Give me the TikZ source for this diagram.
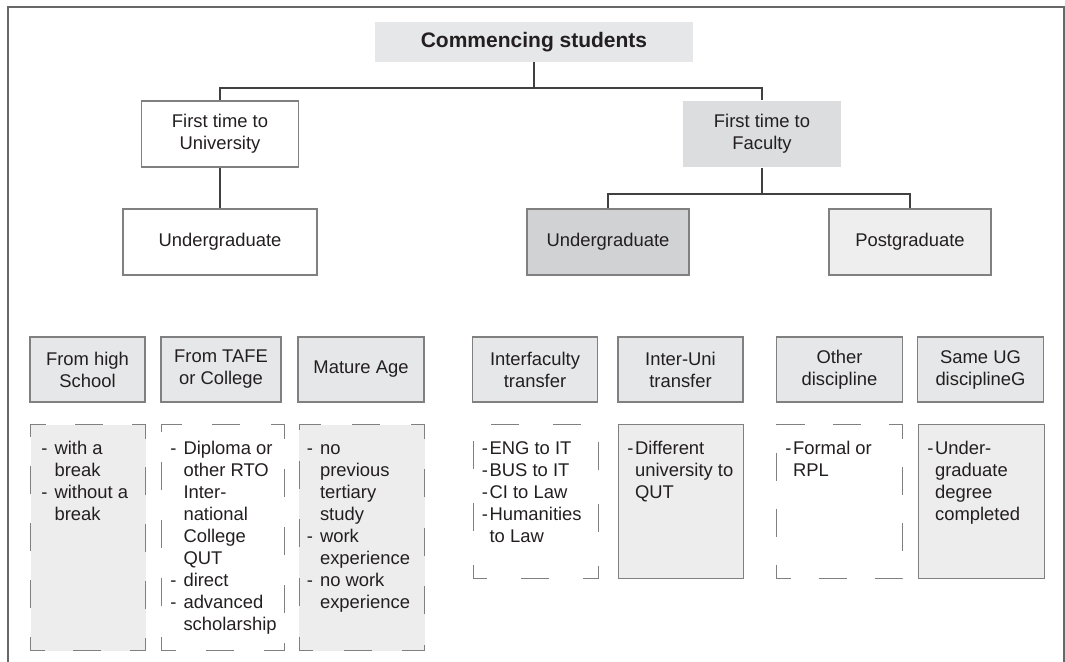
\documentclass[tikz,border=0pt]{standalone}
\usepackage{fontspec}
\setmainfont{Liberation Sans}
\usepackage{xcolor}
\usepackage{tikz}
\usetikzlibrary{positioning,calc,decorations}

\definecolor{inkc}{HTML}{231F20}
\definecolor{edgec}{HTML}{808080}
\definecolor{linec}{HTML}{404040}
\definecolor{titlefill}{HTML}{E6E7E8}
\definecolor{facfill}{HTML}{DCDDDE}
\definecolor{ugfill}{HTML}{D1D2D4}
\definecolor{pgfill}{HTML}{EEEEEE}
\definecolor{headfill}{HTML}{E6E7E8}
\definecolor{detfill}{HTML}{EDEDED}

\tikzset{
  every node/.style={text=inkc, font=\fontsize{9.2}{11}\selectfont},
  box/.style={draw=edgec, line width=0.6pt, align=center, inner sep=2pt, minimum height=33pt},
  headbox/.style={box, fill=headfill, minimum height=32.5pt},
  detbox/.style={draw=edgec, line width=0.6pt, inner sep=0pt, anchor=north west},
  dashbox/.style={detbox, dash pattern=on 14pt off 14pt, dash phase=7pt, dash expand off},
  dettext/.style={anchor=north west, inner sep=0pt, align=left},
  link/.style={draw=linec, line width=0.6pt},
}

\begin{document}
\begin{tikzpicture}[x=0.5pt, y=-0.5pt]
    \useasboundingbox (0,0) rectangle (1065,662);
    % frame, open at the bottom
    \draw[edgec!80!black, line width=0.8pt] (8,662) -- (8,7) -- (1064,7) -- (1064,662);

    % top of the tree
    \node[fill=titlefill, minimum width=159pt, minimum height=20pt, inner sep=0pt,
          font=\fontsize{10.5}{12}\selectfont\bfseries] (title) at (534,42) {Commencing students};
    \node[box, minimum width=78.5pt] (univ) at (220,134) {First time to\\University};
    \node[box, draw=none, fill=facfill, minimum width=79pt] (faculty) at (762,134) {First time to\\Faculty};
    \node[box, minimum width=97pt] (ugUni) at (220,242) {Undergraduate};
    \node[box, fill=ugfill, minimum width=81pt] (ugFac) at (608,242) {Undergraduate};
    \node[box, fill=pgfill, minimum width=81pt] (pgFac) at (910,242) {Postgraduate};

    \coordinate (split1) at (534,88);
    \coordinate (split2) at (762,194);
    \draw[link] (title.south) -- (split1);
    \draw[link] (univ.north) |- (split1) -| (faculty.north);
    \draw[link] (univ.south) -- (ugUni.north);
    \draw[link] (faculty.south) -- (split2);
    \draw[link] (ugFac.north) |- (split2) -| (pgFac.north);

    % categories
    \node[headbox, minimum width=57.5pt] (highSchool) at (87.5,369.5) {From high\\School};
    \node[headbox, minimum width=60pt] (tafe) at (221,369.5) {From TAFE\\or College};
    \node[headbox, minimum width=63pt] (mature) at (361,369.5) {Mature Age};
    \node[headbox, minimum width=62.5pt] (interFac) at (535,369.5) {Interfaculty\\transfer};
    \node[headbox, minimum width=62.5pt] (interUni) at (680.5,369.5) {Inter-Uni\\transfer};
    \node[headbox, minimum width=63pt] (otherDis) at (839.5,369.5) {Other\\discipline};
    \node[headbox, minimum width=63pt] (sameDis) at (980.5,369.5) {Same UG\\disciplineG};

    % detail boxes
    \node[dashbox, fill=detfill, minimum width=57.5pt, minimum height=113pt] (highSchoolD) at (30,424) {};
    \node[dashbox, minimum width=61.5pt, minimum height=113pt] (tafeD) at (161,424) {};
    \node[dashbox, fill=detfill, minimum width=62.7pt, minimum height=113pt] (matureD) at (298.5,424) {};
    \node[dashbox, minimum width=62.5pt, minimum height=77pt] (interFacD) at (472.5,424) {};
    \node[detbox, fill=detfill, minimum width=62.5pt, minimum height=77pt] (interUniD) at (618,424) {};
    \node[dashbox, minimum width=63pt, minimum height=77pt] (otherDisD) at (776,424) {};
    \node[detbox, fill=detfill, minimum width=63pt, minimum height=77pt] (sameDisD) at (918,424) {};

    \node[dettext] (highSchoolT) at ([xshift=5.5pt, yshift=-7.3pt]highSchoolD.north west)
      {\begin{tabular}{@{}l@{\hspace{3.5pt}}l@{}}-&with a\\&break\\-&without a\\&break\end{tabular}};
    \node[dettext] (tafeT) at ([xshift=4.5pt, yshift=-7.3pt]tafeD.north west)
      {\begin{tabular}{@{}l@{\hspace{3.5pt}}l@{}}-&Diploma or\\&other RTO\\&Inter-\\&national\\&College\\&QUT\\-&direct\\-&advanced\\&scholarship\end{tabular}};
    \node[dettext] (matureT) at ([xshift=4pt, yshift=-7.3pt]matureD.north west)
      {\begin{tabular}{@{}l@{\hspace{3.5pt}}l@{}}-&no\\&previous\\&tertiary\\&study\\-&work\\&experience\\-&no work\\&experience\end{tabular}};
    \node[dettext] (interFacT) at ([xshift=4.5pt, yshift=-7.3pt]interFacD.north west)
      {\begin{tabular}{@{}l@{\hspace{0.8pt}}l@{}}-&ENG to IT\\-&BUS to IT\\-&CI to Law\\-&Humanities\\&to Law\end{tabular}};
    \node[dettext] (interUniT) at ([xshift=4.5pt, yshift=-7.3pt]interUniD.north west)
      {\begin{tabular}{@{}l@{\hspace{0.8pt}}l@{}}-&Different\\&university to\\&QUT\end{tabular}};
    \node[dettext] (otherDisT) at ([xshift=4.5pt, yshift=-7.3pt]otherDisD.north west)
      {\begin{tabular}{@{}l@{\hspace{0.8pt}}l@{}}-&Formal or\\&RPL\end{tabular}};
    \node[dettext] (sameDisT) at ([xshift=4.5pt, yshift=-7.3pt]sameDisD.north west)
      {\begin{tabular}{@{}l@{\hspace{0.8pt}}l@{}}-&Under-\\&graduate\\&degree\\&completed\end{tabular}};
\end{tikzpicture}
\end{document}
